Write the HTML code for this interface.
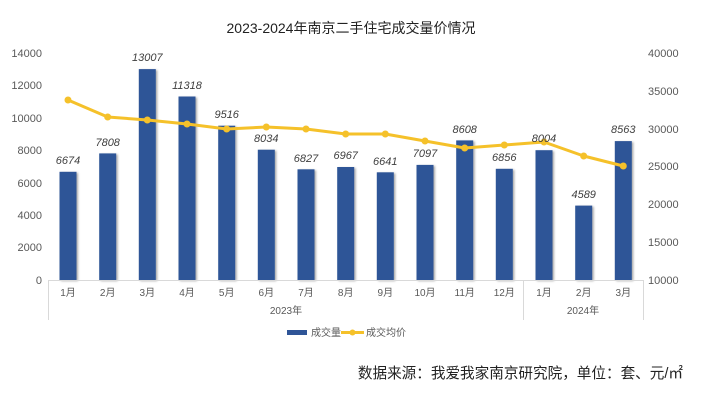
<!DOCTYPE html>
<html><head><meta charset="utf-8"><style>
html,body{margin:0;padding:0;background:#fff;}
svg{display:block;font-family:"Liberation Sans","Noto Sans CJK SC",sans-serif;}
</style></head><body>
<svg width="702" height="401" viewBox="0 0 702 401" xmlns="http://www.w3.org/2000/svg">
<defs><filter id="sh" x="-30%" y="-10%" width="160%" height="120%"><feDropShadow dx="1.5" dy="1" stdDeviation="1" flood-color="#000" flood-opacity="0.35"/></filter></defs>
<text x="351" y="33" text-anchor="middle" font-size="14" fill="#222">2023-2024年南京二手住宅成交量价情况</text>
<g font-size="11" fill="#595959" text-anchor="end">
<text x="42" y="57">14000</text><text x="42" y="89">12000</text><text x="42" y="122">10000</text><text x="42" y="154">8000</text><text x="42" y="187">6000</text><text x="42" y="219">4000</text><text x="42" y="251">2000</text><text x="42" y="284">0</text>
</g>
<g font-size="11" fill="#595959" text-anchor="start">
<text x="648" y="57">40000</text><text x="648" y="95">35000</text><text x="648" y="133">30000</text><text x="648" y="170">25000</text><text x="648" y="208">20000</text><text x="648" y="246">15000</text><text x="648" y="284">10000</text>
</g>
<g fill="#2F5597" filter="url(#sh)">
<rect x="59.5" y="171.8" width="17" height="108.2"/>
<rect x="99.2" y="153.4" width="17" height="126.6"/>
<rect x="138.8" y="69.1" width="17" height="210.9"/>
<rect x="178.5" y="96.5" width="17" height="183.5"/>
<rect x="218.2" y="125.7" width="17" height="154.3"/>
<rect x="257.8" y="149.7" width="17" height="130.3"/>
<rect x="297.5" y="169.3" width="17" height="110.7"/>
<rect x="337.2" y="167.0" width="17" height="113.0"/>
<rect x="376.8" y="172.3" width="17" height="107.7"/>
<rect x="416.5" y="164.9" width="17" height="115.1"/>
<rect x="456.2" y="140.4" width="17" height="139.6"/>
<rect x="495.8" y="168.8" width="17" height="111.2"/>
<rect x="535.5" y="150.2" width="17" height="129.8"/>
<rect x="575.2" y="205.6" width="17" height="74.4"/>
<rect x="614.8" y="141.1" width="17" height="138.9"/>
</g>
<g stroke="#D9D9D9" stroke-width="1" fill="none">
<line x1="48" y1="280.5" x2="643" y2="280.5"/>
<line x1="48.5" y1="280" x2="48.5" y2="320"/>
<line x1="523.5" y1="280" x2="523.5" y2="320"/>
<line x1="643.5" y1="280" x2="643.5" y2="320"/>
</g>
<polyline fill="none" stroke="#F5C12A" stroke-width="3" stroke-linejoin="round" points="68,100 107.7,117 147.3,120 187,124 226.7,129 266.3,127 306,129 345.7,134 385.3,134 425,141 464.7,148 504.3,145 544,142 583.7,156 623.3,166"/>
<g fill="#F5C12A">
<circle cx="68" cy="100" r="3.5"/><circle cx="107.7" cy="117" r="3.5"/><circle cx="147.3" cy="120" r="3.5"/><circle cx="187" cy="124" r="3.5"/><circle cx="226.7" cy="129" r="3.5"/><circle cx="266.3" cy="127" r="3.5"/><circle cx="306" cy="129" r="3.5"/><circle cx="345.7" cy="134" r="3.5"/><circle cx="385.3" cy="134" r="3.5"/><circle cx="425" cy="141" r="3.5"/><circle cx="464.7" cy="148" r="3.5"/><circle cx="504.3" cy="145" r="3.5"/><circle cx="544" cy="142" r="3.5"/><circle cx="583.7" cy="156" r="3.5"/><circle cx="623.3" cy="166" r="3.5"/>
</g>
<g font-size="11" fill="#404040" font-style="italic" text-anchor="middle">
<text x="68" y="164">6674</text><text x="107.7" y="146">7808</text><text x="147.3" y="61">13007</text><text x="187" y="89">11318</text><text x="226.7" y="118">9516</text><text x="266.3" y="142">8034</text><text x="306" y="162">6827</text><text x="345.7" y="159">6967</text><text x="385.3" y="165">6641</text><text x="425" y="157">7097</text><text x="464.7" y="133">8608</text><text x="504.3" y="161">6856</text><text x="544" y="142">8004</text><text x="583.7" y="198">4589</text><text x="623.3" y="133">8563</text>
</g>
<g font-size="10" fill="#595959" text-anchor="middle">
<text x="68" y="296">1月</text><text x="107.7" y="296">2月</text><text x="147.3" y="296">3月</text><text x="187" y="296">4月</text><text x="226.7" y="296">5月</text><text x="266.3" y="296">6月</text><text x="306" y="296">7月</text><text x="345.7" y="296">8月</text><text x="385.3" y="296">9月</text><text x="425" y="296">10月</text><text x="464.7" y="296">11月</text><text x="504.3" y="296">12月</text><text x="544" y="296">1月</text><text x="583.7" y="296">2月</text><text x="623.3" y="296">3月</text>
<text x="286" y="314">2023年</text><text x="583" y="314">2024年</text>
</g>
<rect x="287" y="330" width="20" height="5" fill="#2F5597"/>
<text x="311" y="336" font-size="10" fill="#595959">成交量</text>
<line x1="341" y1="332.5" x2="364" y2="332.5" stroke="#F5C12A" stroke-width="3"/>
<circle cx="352.5" cy="332.5" r="3" fill="#F5C12A"/>
<text x="366" y="336" font-size="10" fill="#595959">成交均价</text>
<text x="683" y="378" font-size="14.6" fill="#222" text-anchor="end">数据来源：我爱我家南京研究院，单位：套、元/㎡</text>
</svg>
</body></html>
